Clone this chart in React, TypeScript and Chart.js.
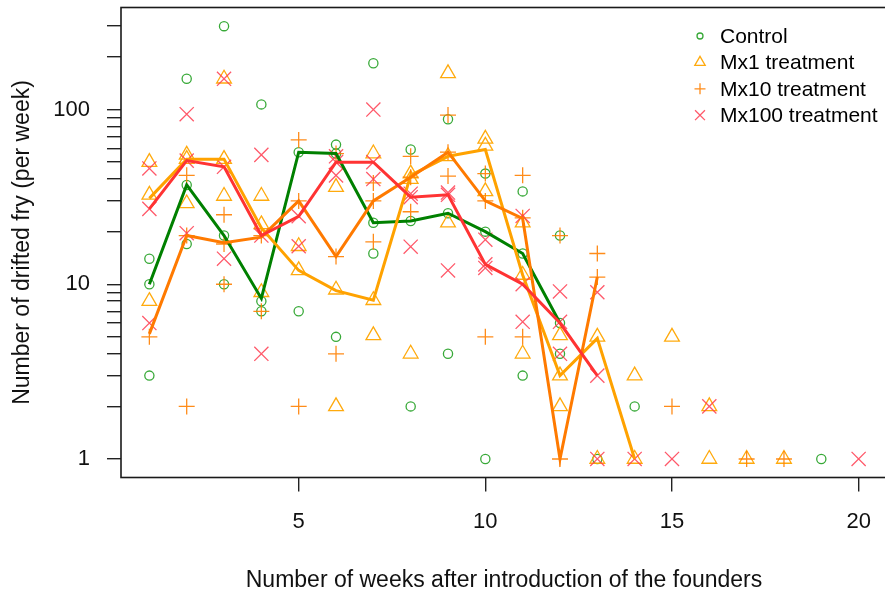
import React, { useEffect, useRef } from "react";
import { Chart, registerables } from "chart.js";

Chart.register(...registerables);

// ---------- data ----------
const weeks = [1, 2, 3, 4, 5, 6, 7, 8, 9, 10, 11, 12, 13, 14, 15, 16, 17, 18, 19, 20];

// replicate counts per week (index 0 = week 1); zero counts are not drawable on a log axis
const controlReplicates: number[][] = [
  [3, 10, 14], [150, 37, 17], [300, 19, 10], [107, 8, 7], [57, 7],
  [63, 56, 5], [184, 22.5, 15], [59, 23, 2], [88, 25.5, 4], [43, 20, 1],
  [34, 15, 3], [19, 6, 4], [1], [2], [], [], [], [], [1], [],
];
const mx1Replicates: number[][] = [
  [50, 32.5, 8], [55, 52, 29], [150, 52, 32], [32, 22, 9], [16.5, 12],
  [36, 9.3, 2], [56, 8.1, 5.1], [43, 40, 4], [161, 54, 22.5], [68, 62, 34],
  [22.5, 11.3, 4], [5.1, 3, 2], [5, 1], [3, 1], [5], [2, 1], [1], [1], [], [],
];
const mx10Replicates: number[][] = [
  [5], [42, 19, 2], [25, 17, 10], [19, 7], [67, 30, 2],
  [56, 14.4, 4], [38, 30, 17.5], [54, 41, 26], [93, 57, 41.6], [43, 30, 5],
  [42, 24, 5], [19, 1], [15, 11], [], [2], [], [1], [1], [], [],
];
const mx100Replicates: number[][] = [
  [46, 27, 6], [94, 51, 19.6], [150, 47, 14], [55, 19, 4], [24.5, 16.5],
  [54, 50, 42], [100, 50, 40], [33, 31.5, 16.4], [33.5, 32.5, 12], [18, 13, 12.4],
  [24.6, 10, 6.1], [9.1, 6.1, 4], [9, 3, 1], [1], [1], [2], [], [], [], [1],
];

// summary lines (weekly medians), starting at week 1
const controlLine = [10, 37, 19, 8.3, 57, 56, 22.5, 23, 25.5, 20, 15, 6];
const mx1Line = [31, 52, 52, 21, 12, 9.2, 8.1, 42, 54, 59, 11.3, 3, 4.9, 1];
const mx10Line = [5.2, 19, 17.3, 18.6, 30, 14.4, 30, 41, 57, 30, 23.8, 1, 11];
const mx100Line = [27, 51, 47, 19, 24.5, 50, 50, 31.5, 32.5, 13, 10, 6, 3];

const seriesNames = ["Control", "Mx1 treatment", "Mx10 treatment", "Mx100 treatment"];

const xTicks = [5, 10, 15, 20];
const yTicks = [1, 2, 3, 4, 5, 6, 7, 8, 9, 10, 20, 30, 40, 50, 60, 70, 80, 90, 100, 200, 300];
const yLabelled = [1, 10, 100];

const xTitle = "Number of weeks after introduction of the founders";
const yTitle = "Number of drifted fry (per week)";

// ---------- styling / layout ----------
const FONT = "'Liberation Sans', Arial, Helvetica, sans-serif";
const PAD_TOP = 19.5; // chart-internal top padding
const SHIFT_Y = 12; // canvas shifted up so plot top lands at 7.5px
const PAD_RIGHT = 20;
const CANVAS_W = 907;
const CANVAS_H = 608;
const X_AXIS_H = 118.5;

const styles = [
  { point: "rgba(34,160,34,0.9)", line: "#008000", pointStyle: "circle", radius: 4.6, lRadius: 3 },
  { point: "rgba(255,165,0,0.95)", line: "#FFA200", pointStyle: "triangle", radius: 8.5, lRadius: 6 },
  { point: "rgba(255,128,0,0.9)", line: "#FF7A00", pointStyle: "cross", radius: 8, lRadius: 5.5 },
  { point: "rgba(255,60,80,0.85)", line: "#FF3333", pointStyle: "crossRot", radius: 10, lRadius: 7 },
];

const replicateSets = [controlReplicates, mx1Replicates, mx10Replicates, mx100Replicates];
const lineSets = [controlLine, mx1Line, mx10Line, mx100Line];

function drawMarker(ctx: CanvasRenderingContext2D, style: string, x: number, y: number, r: number) {
  ctx.beginPath();
  if (style === "circle") {
    ctx.arc(x, y, r, 0, Math.PI * 2);
  } else if (style === "triangle") {
    for (let k = 0; k < 3; k++) {
      const a = (k * 2 * Math.PI) / 3;
      const px = x + Math.sin(a) * r;
      const py = y - Math.cos(a) * r;
      if (k === 0) ctx.moveTo(px, py);
      else ctx.lineTo(px, py);
    }
    ctx.closePath();
  } else if (style === "cross") {
    ctx.moveTo(x - r, y);
    ctx.lineTo(x + r, y);
    ctx.moveTo(x, y - r);
    ctx.lineTo(x, y + r);
  } else {
    const d = r * Math.SQRT1_2;
    ctx.moveTo(x - d, y - d);
    ctx.lineTo(x + d, y + d);
    ctx.moveTo(x + d, y - d);
    ctx.lineTo(x - d, y + d);
  }
  ctx.stroke();
}

const boxPlugin = {
  id: "rBox",
  afterDraw(chart: any) {
    const { ctx, chartArea } = chart;
    ctx.save();
    ctx.strokeStyle = "#1a1a1a";
    ctx.lineWidth = 1.6;
    ctx.strokeRect(chartArea.left, chartArea.top, chartArea.right - chartArea.left, chartArea.bottom - chartArea.top);
    ctx.restore();
  },
};

const legendPlugin = {
  id: "rLegend",
  afterDraw(chart: any) {
    const { ctx, chartArea } = chart;
    ctx.save();
    ctx.font = `21px ${FONT}`;
    ctx.textBaseline = "middle";
    ctx.textAlign = "left";
    const top = chartArea.top + 28.5;
    seriesNames.forEach((name, i) => {
      const y = top + i * 26.4;
      ctx.strokeStyle = styles[i].point;
      ctx.lineWidth = 1.3;
      drawMarker(ctx, styles[i].pointStyle, 700, y, styles[i].lRadius);
      ctx.fillStyle = "#000";
      ctx.fillText(name, 720, y + 1);
    });
    ctx.restore();
  },
};

export default function App() {
  const canvasRef = useRef<HTMLCanvasElement | null>(null);

  useEffect(() => {
    const canvas = canvasRef.current;
    if (!canvas) return;

    const datasets: any[] = [];
    replicateSets.forEach((reps, i) => {
      datasets.push({
        label: seriesNames[i] + " replicates",
        data: weeks.flatMap((w, k) => (reps[k] || []).map((v) => ({ x: w, y: v }))),
        showLine: false,
        pointStyle: styles[i].pointStyle,
        pointRadius: styles[i].radius,
        pointBorderWidth: 1.3,
        pointBorderColor: styles[i].point,
        pointBackgroundColor: "rgba(0,0,0,0)",
        order: 10 - i,
      });
    });
    lineSets.forEach((vals, i) => {
      datasets.push({
        label: seriesNames[i],
        data: vals.map((v, k) => ({ x: weeks[k], y: v })),
        showLine: true,
        borderColor: styles[i].line,
        borderWidth: 3,
        pointRadius: 0,
        fill: false,
        tension: 0,
        order: 4 - i,
      });
    });

    const chart = new Chart(canvas, {
      type: "scatter",
      data: { datasets },
      plugins: [boxPlugin, legendPlugin],
      options: {
        responsive: false,
        animation: false,
        events: [],
        layout: { padding: { top: PAD_TOP, left: 0, right: PAD_RIGHT, bottom: 0 } },
        plugins: { legend: { display: false }, tooltip: { enabled: false } },
        scales: {
          x: {
            type: "linear",
            min: 0.24,
            max: 20.76,
            afterBuildTicks: (s: any) => {
              s.ticks = xTicks.map((v) => ({ value: v }));
            },
            afterFit: (s: any) => {
              s.height = X_AXIS_H;
              s.paddingLeft = 0;
              s.paddingRight = 0;
            },
            ticks: {
              autoSkip: false,
              maxRotation: 0,
              padding: 17,
              color: "#111",
              font: { family: FONT, size: 22 },
              callback: (v: any) => String(v),
            },
            grid: { drawOnChartArea: false, drawTicks: true, tickLength: 14, color: "#222", lineWidth: 1.4 },
            border: { display: false },
            title: {
              display: true,
              text: xTitle,
              color: "#111",
              font: { family: FONT, size: 23 },
              padding: { top: 0, bottom: 2 },
            },
          },
          y: {
            type: "logarithmic",
            min: Math.pow(10, -0.106),
            max: Math.pow(10, 2.584),
            afterBuildTicks: (s: any) => {
              s.ticks = yTicks.map((v) => ({ value: v }));
            },
            afterFit: (s: any) => {
              s.width = 121;
              s.paddingTop = 0;
              s.paddingBottom = 0;
            },
            ticks: {
              autoSkip: false,
              padding: 17,
              color: "#111",
              font: { family: FONT, size: 22 },
              callback: (v: any) => (yLabelled.includes(Number(v)) ? String(v) : ""),
            },
            grid: { drawOnChartArea: false, drawTicks: true, tickLength: 14, color: "#222", lineWidth: 1.4 },
            border: { display: false },
            title: {
              display: true,
              text: yTitle,
              color: "#111",
              font: { family: FONT, size: 23 },
              padding: { top: 9, bottom: 0 },
            },
          },
        },
      } as any,
    });

    return () => chart.destroy();
  }, []);

  return (
    <div
      style={{
        position: "fixed",
        left: 0,
        top: 0,
        width: 885,
        height: 596,
        overflow: "hidden",
        background: "#fff",
      }}
    >
      <canvas
        ref={canvasRef}
        width={CANVAS_W}
        height={CANVAS_H}
        style={{ display: "block", position: "absolute", left: 0, top: -SHIFT_Y }}
      />
    </div>
  );
}
